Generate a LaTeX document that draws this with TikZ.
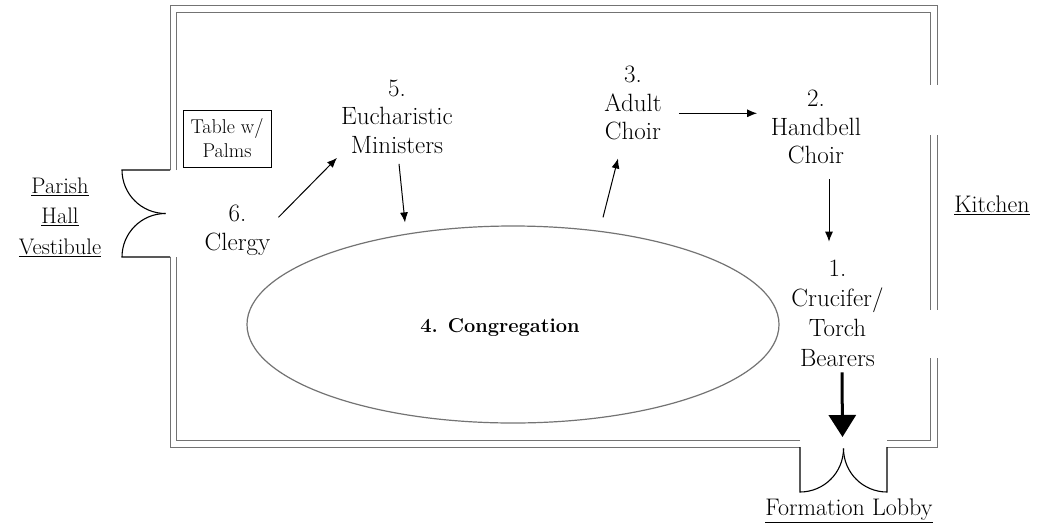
\documentclass[tikz,border=0pt]{standalone}
\usepackage{fontspec}
\usetikzlibrary{arrows.meta,shapes.geometric}

\begin{document}
\begin{tikzpicture}[x=1pt,y=-1pt,>={Latex[length=10pt,width=8pt]},
    wall/.style={draw=black!55,line width=0.9pt},
    doorline/.style={draw=black,line width=1.1pt},
    group/.style={align=center,font=\fontsize{25}{28.5}\selectfont,inner sep=0pt},
    room/.style={align=center,font=\fontsize{24}{30.5}\selectfont,inner sep=0pt},
    flow/.style={->,line width=1pt}]
  \useasboundingbox (0,0) rectangle (1037,531);

  % walls of the hall (double line)
  \draw[wall] (170,170) -- (170,5) -- (937,5) -- (937,85);
  \draw[wall] (176,170) -- (176,12) -- (930,12) -- (930,85);
  \draw[wall] (937,135) -- (937,310);
  \draw[wall] (930,135) -- (930,310);
  \draw[wall] (937,358) -- (937,447) -- (887,447);
  \draw[wall] (930,358) -- (930,440) -- (887,440);
  \draw[wall] (800,447) -- (170,447) -- (170,257);
  \draw[wall] (800,440) -- (176,440) -- (176,257);

  % doors
  \draw[doorline] (170,170) -- (122,170) arc[start angle=180,end angle=270,radius=43.5pt];
  \draw[doorline] (170,257) -- (122,257) arc[start angle=180,end angle=90,radius=43.5pt];
  \draw[doorline] (800,447) -- (800,492) arc[start angle=270,end angle=360,radius=43.5pt];
  \draw[doorline] (887,447) -- (887,492) arc[start angle=270,end angle=180,radius=43.5pt];
  \coordinate (door) at (842.5,437);

  \node[room,font=\fontsize{22.5}{30.5}\selectfont] (vest) at (60,217) {\underline{Parish}\\\underline{Hall}\\\underline{Vestibule}};
  \node[room] (kitchen) at (992,205)   {\underline{Kitchen}};
  \node[room] (lobby)   at (849,511)   {\underline{Formation Lobby}};

  \node[draw,line width=0.9pt,minimum width=88pt,minimum height=57pt,align=center,
        font=\fontsize{20}{24}\selectfont,inner sep=0pt] (table) at (227,138.5) {Table w/\\Palms};

  \node[ellipse,draw=black!55,line width=1.2pt,minimum width=532pt,minimum height=197pt] (cong) at (513,324.5) {};
  \node[font=\fontsize{20}{24}\selectfont\bfseries] (congtext) at (500,328) {4. Congregation};

  \node[group] (clergy) at (237.5,230.3) {6.\\Clergy};
  \node[group] (minist) at (397,116.8)   {5.\\Eucharistic\\Ministers};
  \node[group] (adult)  at (633,103.3)   {3.\\Adult\\Choir};
  \node[group] (handb)  at (816,127.3)   {2.\\Handbell\\Choir};
  \node[group,font=\fontsize{25}{29.7}\selectfont] (cruc) at (837.5,313.3) {1.\\Crucifer/\\Torch\\Bearers};

  \draw[flow] ([xshift=8pt,yshift=13pt]clergy.east) -- ([xshift=-4pt,yshift=-4pt]minist.south west);
  \draw[flow] ([xshift=2pt,yshift=-10pt]minist.south) -- ([xshift=-108pt,yshift=3pt]cong.north);
  \draw[flow] ([xshift=90pt,yshift=8pt]cong.north) -- ([xshift=-15pt,yshift=-18pt]adult.south);
  \draw[flow] ([xshift=17pt,yshift=-10pt]adult.east) -- ([xshift=-13.5pt,yshift=14pt]handb.west);
  \draw[flow] ([xshift=13pt,yshift=-15pt]handb.south) -- ([xshift=-8.5pt,yshift=18.5pt]cruc.north);
  \draw[line width=3pt,-{Triangle[width=27pt,length=22pt]}] ([xshift=4.5pt,yshift=-6pt]cruc.south) -- (door);
\end{tikzpicture}
\end{document}
